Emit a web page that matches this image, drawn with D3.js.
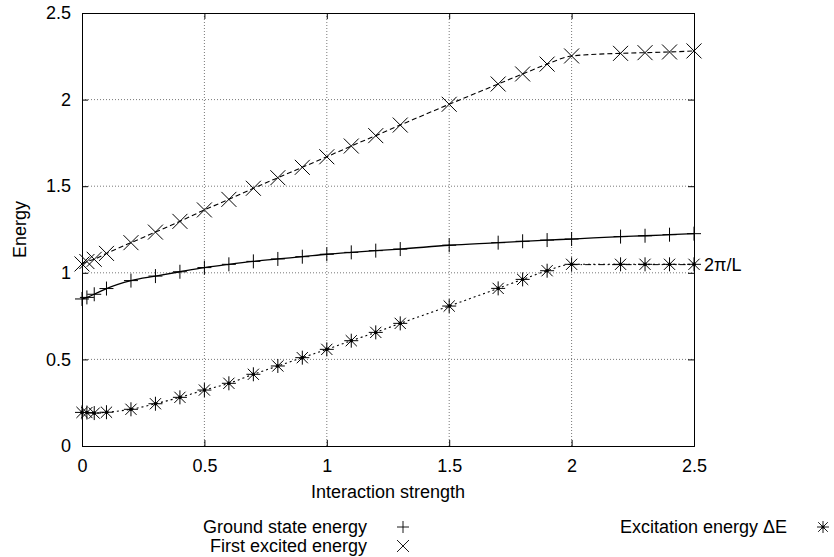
<!DOCTYPE html>
<html lang="en">
<head>
<meta charset="UTF-8">
<title>Energy vs interaction strength</title>
<script src="https://d3js.org/d3.v7.min.js"></script>
<style>
  body { margin: 0; background: #fff; }
  text { font-family: "Liberation Sans", Arial, Helvetica, sans-serif; fill: #000; }
</style>
</head>
<body>
<div id="chart"></div>
<script>
// interaction strength values
const strength = [0, 0.02, 0.05, 0.1, 0.2, 0.3, 0.4, 0.5, 0.6, 0.7, 0.8, 0.9, 1.0,
                  1.1, 1.2, 1.3, 1.5, 1.7, 1.8, 1.9, 2.0, 2.2, 2.3, 2.4, 2.5];

const groundEnergy = [0.849, 0.858, 0.876, 0.909, 0.955, 0.981, 1.006, 1.030, 1.049, 1.066, 1.080, 1.093, 1.107,
                      1.118, 1.128, 1.137, 1.159, 1.174, 1.182, 1.189, 1.195, 1.209, 1.214, 1.220, 1.226];

const excitedEnergy = [1.051, 1.065, 1.078, 1.112, 1.174, 1.235, 1.297, 1.363, 1.424, 1.488, 1.549, 1.609, 1.670,
                       1.732, 1.792, 1.853, 1.973, 2.090, 2.148, 2.205, 2.252, 2.267, 2.271, 2.275, 2.281];

const excitation = [0.194, 0.193, 0.190, 0.195, 0.212, 0.244, 0.281, 0.323, 0.362, 0.414, 0.462, 0.510, 0.558,
                    0.608, 0.656, 0.708, 0.808, 0.910, 0.962, 1.012, 1.049, 1.049, 1.049, 1.049, 1.049];

const xTicks = [0, 0.5, 1, 1.5, 2, 2.5];
const yTicks = [0, 0.5, 1, 1.5, 2, 2.5];
const refLevel = 2 * Math.PI / 6;   // 2π/L with L = 6
const refFrom = 2.0;

const width = 834, height = 557;
const margin = { top: 13, right: 140, bottom: 111, left: 82 };
const innerW = width - margin.left - margin.right;
const innerH = height - margin.top - margin.bottom;

const svg = d3.select("#chart").append("svg")
    .attr("width", width)
    .attr("height", height);

const g = svg.append("g")
    .attr("transform", `translate(${margin.left},${margin.top})`);

const x = d3.scaleLinear().domain([0, 2.5]).range([0, innerW]);
const y = d3.scaleLinear().domain([0, 2.5]).range([innerH, 0]);

// grid
g.append("g").selectAll("line")
    .data(xTicks.slice(1, -1))
    .join("line")
    .attr("x1", d => x(d)).attr("x2", d => x(d))
    .attr("y1", 0).attr("y2", innerH)
    .attr("stroke", "#555").attr("stroke-width", 0.8).attr("stroke-dasharray", "1,2");

g.append("g").selectAll("line")
    .data(yTicks.slice(1, -1))
    .join("line")
    .attr("x1", 0).attr("x2", innerW)
    .attr("y1", d => y(d)).attr("y2", d => y(d))
    .attr("stroke", "#555").attr("stroke-width", 0.8).attr("stroke-dasharray", "1,2");

// axes (ticks pointing inward, mirrored)
const fontSize = 18;
g.append("g").attr("transform", `translate(0,${innerH})`)
    .call(d3.axisBottom(x).tickValues(xTicks).tickFormat(d3.format("~g")).tickSize(-6).tickPadding(13));
g.append("g")
    .call(d3.axisLeft(y).tickValues(yTicks).tickFormat(d3.format("~g")).tickSize(-6).tickPadding(11));
g.append("g")
    .call(d3.axisTop(x).tickValues(xTicks).tickFormat("").tickSize(-6));
g.append("g").attr("transform", `translate(${innerW},0)`)
    .call(d3.axisRight(y).tickValues(yTicks).tickFormat("").tickSize(-6));

g.selectAll(".domain").attr("stroke", "#000");
g.selectAll(".tick line").attr("stroke", "#000");
g.selectAll(".tick text").style("font-size", fontSize + "px");

// axis titles
g.append("text")
    .attr("x", innerW / 2).attr("y", innerH + 52)
    .attr("text-anchor", "middle")
    .style("font-size", fontSize + "px")
    .text("Interaction strength");

svg.append("text")
    .attr("transform", `translate(26,${margin.top + innerH / 2}) rotate(-90)`)
    .attr("text-anchor", "middle")
    .style("font-size", fontSize + "px")
    .text("Energy");

// curves
const line = vals => d3.line()
    .x((d, i) => x(strength[i]))
    .y(d => y(d))
    .curve(d3.curveMonotoneX)(vals);

g.append("path").attr("d", line(groundEnergy))
    .attr("fill", "none").attr("stroke", "#000").attr("stroke-width", 1.3);
g.append("path").attr("d", line(excitedEnergy))
    .attr("fill", "none").attr("stroke", "#000").attr("stroke-width", 1.1)
    .attr("stroke-dasharray", "5,3");
g.append("path").attr("d", line(excitation))
    .attr("fill", "none").attr("stroke", "#000").attr("stroke-width", 1.1)
    .attr("stroke-dasharray", "2,3");

// 2π/L reference
g.append("line")
    .attr("x1", x(refFrom)).attr("x2", x(2.5))
    .attr("y1", y(refLevel)).attr("y2", y(refLevel))
    .attr("stroke", "#000").attr("stroke-width", 1)
    .attr("stroke-dasharray", "6,3,1.5,3");
g.append("text")
    .attr("x", x(2.5) + 10).attr("y", y(refLevel))
    .attr("dy", "0.35em")
    .style("font-size", fontSize + "px")
    .text("2π/L");

// marker shapes
const plusPath = r => `M${-r},0H${r}M0,${-r}V${r}`;
const crossPath = r => `M${-r},${-r}L${r},${r}M${-r},${r}L${r},${-r}`;
const starPath = r => plusPath(r) + crossPath(r * 0.8);

function markers(vals, pathD, dot) {
  const m = g.append("g").selectAll("g")
      .data(vals)
      .join("g")
      .attr("transform", (d, i) => `translate(${x(strength[i])},${y(d)})`);
  m.append("path").attr("d", pathD)
      .attr("fill", "none").attr("stroke", "#000").attr("stroke-width", 1);
  if (dot) m.append("circle").attr("r", 1.8).attr("fill", "#000");
}
markers(groundEnergy, plusPath(7));
markers(excitedEnergy, crossPath(7.5));
markers(excitation, starPath(7), true);

// legend
const legend = [
  { label: "Ground state energy", d: plusPath(6), x: 367, y: 527 },
  { label: "First excited energy", d: crossPath(6), x: 367, y: 546 },
  { label: "Excitation energy ΔE", d: starPath(6), x: 787, y: 527, dot: true }
];
const lg = svg.append("g").selectAll("g").data(legend).join("g");
lg.append("text")
    .attr("x", d => d.x).attr("y", d => d.y)
    .attr("dy", "0.35em")
    .attr("text-anchor", "end")
    .style("font-size", fontSize + "px")
    .text(d => d.label);
lg.append("path")
    .attr("transform", d => `translate(${d.x + 36},${d.y})`)
    .attr("d", d => d.d)
    .attr("fill", "none").attr("stroke", "#000").attr("stroke-width", 0.9);
lg.filter(d => d.dot).append("circle")
    .attr("cx", d => d.x + 36).attr("cy", d => d.y)
    .attr("r", 1.6).attr("fill", "#000");
</script>
</body>
</html>
